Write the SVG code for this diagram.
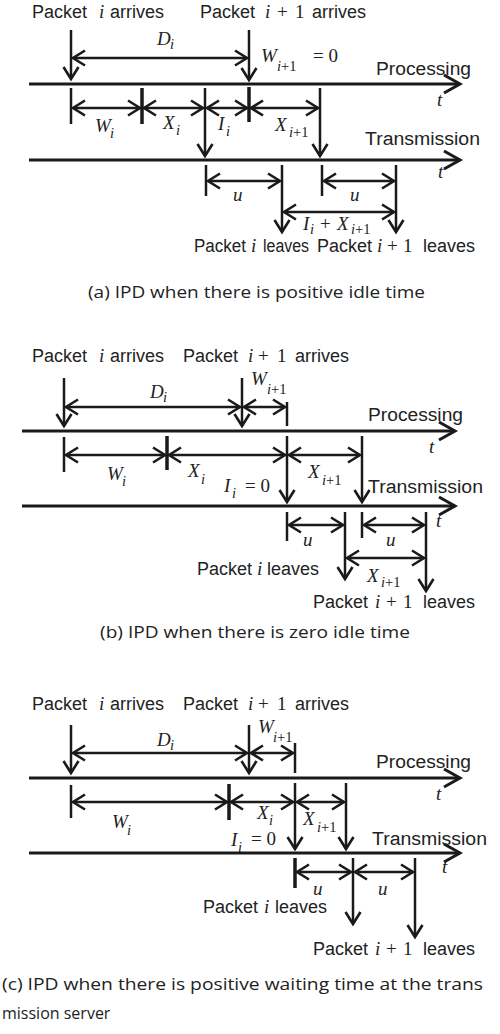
<svg xmlns="http://www.w3.org/2000/svg" width="500" height="1034" viewBox="0 0 500 1034">
<defs>
<style>
.axis{stroke:#1a1a1a;stroke-width:3;fill:none}
.ln{stroke:#1a1a1a;stroke-width:2.5;fill:none}
.tk{stroke:#1a1a1a;stroke-width:2.5}
.tkb{stroke:#1a1a1a;stroke-width:3.5}
.w{font-family:"Liberation Sans",Arial,sans-serif;font-size:18px;fill:#222}
.m{font-family:"Liberation Serif","Times New Roman",serif;font-style:italic;font-size:19px;fill:#222}
.mu{font-family:"Liberation Serif","Times New Roman",serif;font-size:19px;fill:#222}
.s{font-family:"Liberation Serif","Times New Roman",serif;font-style:italic;font-size:14.5px;fill:#222}
.cap{font-family:"Open Sans",sans-serif;font-size:16px;fill:#222}
</style>
<marker id="a" markerUnits="userSpaceOnUse" viewBox="-15 -10 20 20" markerWidth="20" markerHeight="20" refX="0" refY="0" orient="auto-start-reverse" overflow="visible">
<path d="M-12,-7.5 L0,0 L-12,7.5" fill="none" stroke="#1a1a1a" stroke-width="2.6"/>
</marker>
<marker id="A" markerUnits="userSpaceOnUse" viewBox="-20 -12 24 24" markerWidth="24" markerHeight="24" refX="0" refY="0" orient="auto" overflow="visible">
<path d="M-16,-9 L0,0 L-16,9" fill="none" stroke="#1a1a1a" stroke-width="3"/>
</marker>
</defs>
<rect width="500" height="1034" fill="#fff"/>

<!-- ===== Panel (a) ===== -->
<g id="connectors-a">
<line class="axis" x1="29" y1="84" x2="460" y2="84" marker-end="url(#A)"/>
<line class="axis" x1="29" y1="160" x2="460" y2="160" marker-end="url(#A)"/>
<line class="ln" x1="71" y1="30" x2="71" y2="79" marker-end="url(#a)"/>
<line class="ln" x1="249" y1="30" x2="249" y2="80" marker-end="url(#a)"/>
<line class="ln" x1="73" y1="58" x2="247" y2="58" marker-start="url(#a)" marker-end="url(#a)"/>
<line class="tk" x1="71" y1="88" x2="71" y2="124"/>
<line class="tkb" x1="142" y1="88" x2="142" y2="124"/>
<line class="ln" x1="205" y1="88" x2="205" y2="156" marker-end="url(#a)"/>
<line class="tkb" x1="249" y1="87" x2="249" y2="122"/>
<line class="ln" x1="320" y1="88" x2="320" y2="156" marker-end="url(#a)"/>
<line class="ln" x1="73" y1="108" x2="140" y2="108" marker-start="url(#a)" marker-end="url(#a)"/>
<line class="ln" x1="144" y1="108" x2="203" y2="108" marker-start="url(#a)" marker-end="url(#a)"/>
<line class="ln" x1="207" y1="108" x2="247" y2="108" marker-start="url(#a)" marker-end="url(#a)"/>
<line class="ln" x1="251" y1="108" x2="318" y2="108" marker-start="url(#a)" marker-end="url(#a)"/>
<line class="tk" x1="206" y1="165" x2="206" y2="196"/>
<line class="ln" x1="282" y1="165" x2="282" y2="232" marker-end="url(#a)"/>
<line class="tk" x1="322" y1="165" x2="322" y2="196"/>
<line class="ln" x1="396" y1="165" x2="396" y2="232" marker-end="url(#a)"/>
<line class="ln" x1="208" y1="181" x2="280" y2="181" marker-start="url(#a)" marker-end="url(#a)"/>
<line class="ln" x1="324" y1="181" x2="394" y2="181" marker-start="url(#a)" marker-end="url(#a)"/>
<line class="ln" x1="284" y1="212" x2="394" y2="212" marker-start="url(#a)" marker-end="url(#a)"/>
</g>
<g id="labels-a">
<text class="w" y="18"><tspan x="32">Packet</tspan><tspan class="m" x="99">i</tspan><tspan x="110">arrives</tspan></text>
<text class="w" y="18"><tspan x="200">Packet</tspan><tspan class="m" x="265">i</tspan><tspan class="mu" x="277">+</tspan><tspan class="mu" x="295">1</tspan><tspan x="312">arrives</tspan></text>
<text class="m" x="157" y="45">D</text><text class="s" x="170" y="49">i</text>
<text class="m" x="261" y="62">W</text><text class="s" x="277" y="71">i<tspan font-style="normal">+1</tspan></text><text class="mu" x="313" y="62">= 0</text>
<text class="w" x="376" y="75" textLength="95" lengthAdjust="spacingAndGlyphs">Processing</text>
<text class="m" x="437" y="106">t</text>
<text class="m" x="95" y="132">W</text><text class="s" x="110" y="138">i</text>
<text class="m" x="163" y="129">X</text><text class="s" x="176" y="135">i</text>
<text class="m" x="218" y="130">I</text><text class="s" x="226" y="136">i</text>
<text class="m" x="275" y="131">X</text><text class="s" x="289" y="137">i<tspan font-style="normal">+1</tspan></text>
<text class="w" x="365" y="145" textLength="115" lengthAdjust="spacingAndGlyphs">Transmission</text>
<text class="m" x="438" y="178">t</text>
<text class="m" x="233" y="201">u</text>
<text class="m" x="350" y="201">u</text>
<text class="m" x="303" y="230">I</text><text class="s" x="310" y="234">i</text><text class="mu" x="320" y="230">+</text><text class="m" x="337" y="230">X</text><text class="s" x="351" y="234">i<tspan font-style="normal">+1</tspan></text>
<text class="w" y="252"><tspan x="194" textLength="52" lengthAdjust="spacingAndGlyphs">Packet</tspan><tspan class="m" x="251">i</tspan><tspan x="263" textLength="46" lengthAdjust="spacingAndGlyphs">leaves</tspan></text>
<text class="w" y="252"><tspan x="317">Packet</tspan><tspan class="m" x="377">i</tspan><tspan class="mu" x="387">+</tspan><tspan class="mu" x="403">1</tspan><tspan x="423">leaves</tspan></text>
<text class="cap" x="88" y="298" textLength="337" lengthAdjust="spacingAndGlyphs">(a) IPD when there is positive idle time</text>
</g>

<!-- ===== Panel (b) ===== -->
<g id="connectors-b">
<line class="axis" x1="22" y1="431" x2="455" y2="431" marker-end="url(#A)"/>
<line class="axis" x1="22" y1="506" x2="455" y2="506" marker-end="url(#A)"/>
<line class="ln" x1="64" y1="378" x2="64" y2="426" marker-end="url(#a)"/>
<line class="ln" x1="242" y1="378" x2="242" y2="426" marker-end="url(#a)"/>
<line class="ln" x1="66" y1="407" x2="240" y2="407" marker-start="url(#a)" marker-end="url(#a)"/>
<line class="ln" x1="244" y1="407" x2="285" y2="407" marker-start="url(#a)" marker-end="url(#a)"/>
<line class="tk" x1="287" y1="402" x2="287" y2="426"/>
<line class="tk" x1="64" y1="437" x2="64" y2="472"/>
<line class="tkb" x1="167" y1="436" x2="167" y2="470"/>
<line class="ln" x1="287" y1="436" x2="287" y2="502" marker-end="url(#a)"/>
<line class="ln" x1="362" y1="436" x2="362" y2="502" marker-end="url(#a)"/>
<line class="ln" x1="66" y1="455" x2="165" y2="455" marker-start="url(#a)" marker-end="url(#a)"/>
<line class="ln" x1="169" y1="455" x2="285" y2="455" marker-start="url(#a)" marker-end="url(#a)"/>
<line class="ln" x1="289" y1="455" x2="360" y2="455" marker-start="url(#a)" marker-end="url(#a)"/>
<line class="tk" x1="287" y1="512" x2="287" y2="541"/>
<line class="ln" x1="345" y1="512" x2="345" y2="579" marker-end="url(#a)"/>
<line class="tk" x1="362" y1="512" x2="362" y2="538"/>
<line class="ln" x1="426" y1="512" x2="426" y2="591" marker-end="url(#a)"/>
<line class="ln" x1="289" y1="525" x2="343" y2="525" marker-start="url(#a)" marker-end="url(#a)"/>
<line class="ln" x1="364" y1="525" x2="424" y2="525" marker-start="url(#a)" marker-end="url(#a)"/>
<line class="ln" x1="347" y1="558" x2="424" y2="558" marker-start="url(#a)" marker-end="url(#a)"/>
</g>
<g id="labels-b">
<text class="w" y="362"><tspan x="32">Packet</tspan><tspan class="m" x="99">i</tspan><tspan x="110">arrives</tspan></text>
<text class="w" y="362"><tspan x="183">Packet</tspan><tspan class="m" x="248">i</tspan><tspan class="mu" x="258">+</tspan><tspan class="mu" x="277">1</tspan><tspan x="295">arrives</tspan></text>
<text class="m" x="150" y="398">D</text><text class="s" x="163" y="402">i</text>
<text class="m" x="251" y="385">W</text><text class="s" x="267" y="394">i<tspan font-style="normal">+1</tspan></text>
<text class="w" x="368" y="421" textLength="95" lengthAdjust="spacingAndGlyphs">Processing</text>
<text class="m" x="429" y="453">t</text>
<text class="m" x="107" y="480">W</text><text class="s" x="122" y="486">i</text>
<text class="m" x="188" y="477">X</text><text class="s" x="201" y="484">i</text>
<text class="m" x="224" y="492">I</text><text class="s" x="232" y="498">i</text><text class="mu" x="245" y="492">= 0</text>
<text class="m" x="308" y="478">X</text><text class="s" x="322" y="485">i<tspan font-style="normal">+1</tspan></text>
<text class="w" x="368" y="493" textLength="115" lengthAdjust="spacingAndGlyphs">Transmission</text>
<text class="m" x="436" y="527">t</text>
<text class="m" x="303" y="546">u</text>
<text class="m" x="386" y="546">u</text>
<text class="m" x="367" y="582">X</text><text class="s" x="381" y="587">i<tspan font-style="normal">+1</tspan></text>
<text class="w" y="575"><tspan x="197">Packet</tspan><tspan class="m" x="257">i</tspan><tspan x="267">leaves</tspan></text>
<text class="w" y="608"><tspan x="313">Packet</tspan><tspan class="m" x="375">i</tspan><tspan class="mu" x="386">+</tspan><tspan class="mu" x="403">1</tspan><tspan x="423">leaves</tspan></text>
<text class="cap" x="100" y="638" textLength="310" lengthAdjust="spacingAndGlyphs">(b) IPD when there is zero idle time</text>
</g>

<!-- ===== Panel (c) ===== -->
<g id="connectors-c">
<line class="axis" x1="29" y1="778" x2="460" y2="778" marker-end="url(#A)"/>
<line class="axis" x1="29" y1="853" x2="460" y2="853" marker-end="url(#A)"/>
<line class="ln" x1="71" y1="725" x2="71" y2="773" marker-end="url(#a)"/>
<line class="ln" x1="249" y1="725" x2="249" y2="773" marker-end="url(#a)"/>
<line class="ln" x1="73" y1="753" x2="247" y2="753" marker-start="url(#a)" marker-end="url(#a)"/>
<line class="ln" x1="251" y1="753" x2="293" y2="753" marker-start="url(#a)" marker-end="url(#a)"/>
<line class="tk" x1="295" y1="743" x2="295" y2="773"/>
<line class="tk" x1="71" y1="785" x2="71" y2="818"/>
<line class="tkb" x1="229" y1="784" x2="229" y2="820"/>
<line class="ln" x1="295" y1="783" x2="295" y2="849" marker-end="url(#a)"/>
<line class="ln" x1="346" y1="783" x2="346" y2="849" marker-end="url(#a)"/>
<line class="ln" x1="73" y1="802" x2="227" y2="802" marker-start="url(#a)" marker-end="url(#a)"/>
<line class="ln" x1="231" y1="802" x2="293" y2="802" marker-start="url(#a)" marker-end="url(#a)"/>
<line class="ln" x1="297" y1="802" x2="344" y2="802" marker-start="url(#a)" marker-end="url(#a)"/>
<line class="tkb" x1="295" y1="858" x2="295" y2="888"/>
<line class="ln" x1="353" y1="858" x2="353" y2="924" marker-end="url(#a)"/>
<line class="ln" x1="415" y1="858" x2="415" y2="937" marker-end="url(#a)"/>
<line class="ln" x1="297" y1="872" x2="351" y2="872" marker-start="url(#a)" marker-end="url(#a)"/>
<line class="ln" x1="355" y1="872" x2="413" y2="872" marker-start="url(#a)" marker-end="url(#a)"/>
</g>
<g id="labels-c">
<text class="w" y="710"><tspan x="32">Packet</tspan><tspan class="m" x="99">i</tspan><tspan x="110">arrives</tspan></text>
<text class="w" y="710"><tspan x="183">Packet</tspan><tspan class="m" x="248">i</tspan><tspan class="mu" x="258">+</tspan><tspan class="mu" x="277">1</tspan><tspan x="295">arrives</tspan></text>
<text class="m" x="157" y="746">D</text><text class="s" x="170" y="750">i</text>
<text class="m" x="258" y="733">W</text><text class="s" x="273" y="742">i<tspan font-style="normal">+1</tspan></text>
<text class="w" x="376" y="768" textLength="95" lengthAdjust="spacingAndGlyphs">Processing</text>
<text class="m" x="436" y="800">t</text>
<text class="m" x="112" y="828">W</text><text class="s" x="127" y="835">i</text>
<text class="m" x="257" y="819">X</text><text class="s" x="269" y="825">i</text>
<text class="m" x="231" y="846">I</text><text class="s" x="238" y="852">i</text><text class="mu" x="251" y="845">= 0</text>
<text class="m" x="303" y="825">X</text><text class="s" x="317" y="832">i<tspan font-style="normal">+1</tspan></text>
<text class="w" x="372" y="845" textLength="115" lengthAdjust="spacingAndGlyphs">Transmission</text>
<text class="m" x="442" y="873">t</text>
<text class="m" x="313" y="895">u</text>
<text class="m" x="378" y="895">u</text>
<text class="w" y="913"><tspan x="203">Packet</tspan><tspan class="m" x="264">i</tspan><tspan x="275">leaves</tspan></text>
<text class="w" y="955"><tspan x="313">Packet</tspan><tspan class="m" x="375">i</tspan><tspan class="mu" x="386">+</tspan><tspan class="mu" x="403">1</tspan><tspan x="423">leaves</tspan></text>
<text class="cap" x="2" y="990" textLength="481" lengthAdjust="spacingAndGlyphs">(c) IPD when there is positive waiting time at the trans</text>
<text class="cap" x="2" y="1019">mission server</text>
</g>
</svg>
